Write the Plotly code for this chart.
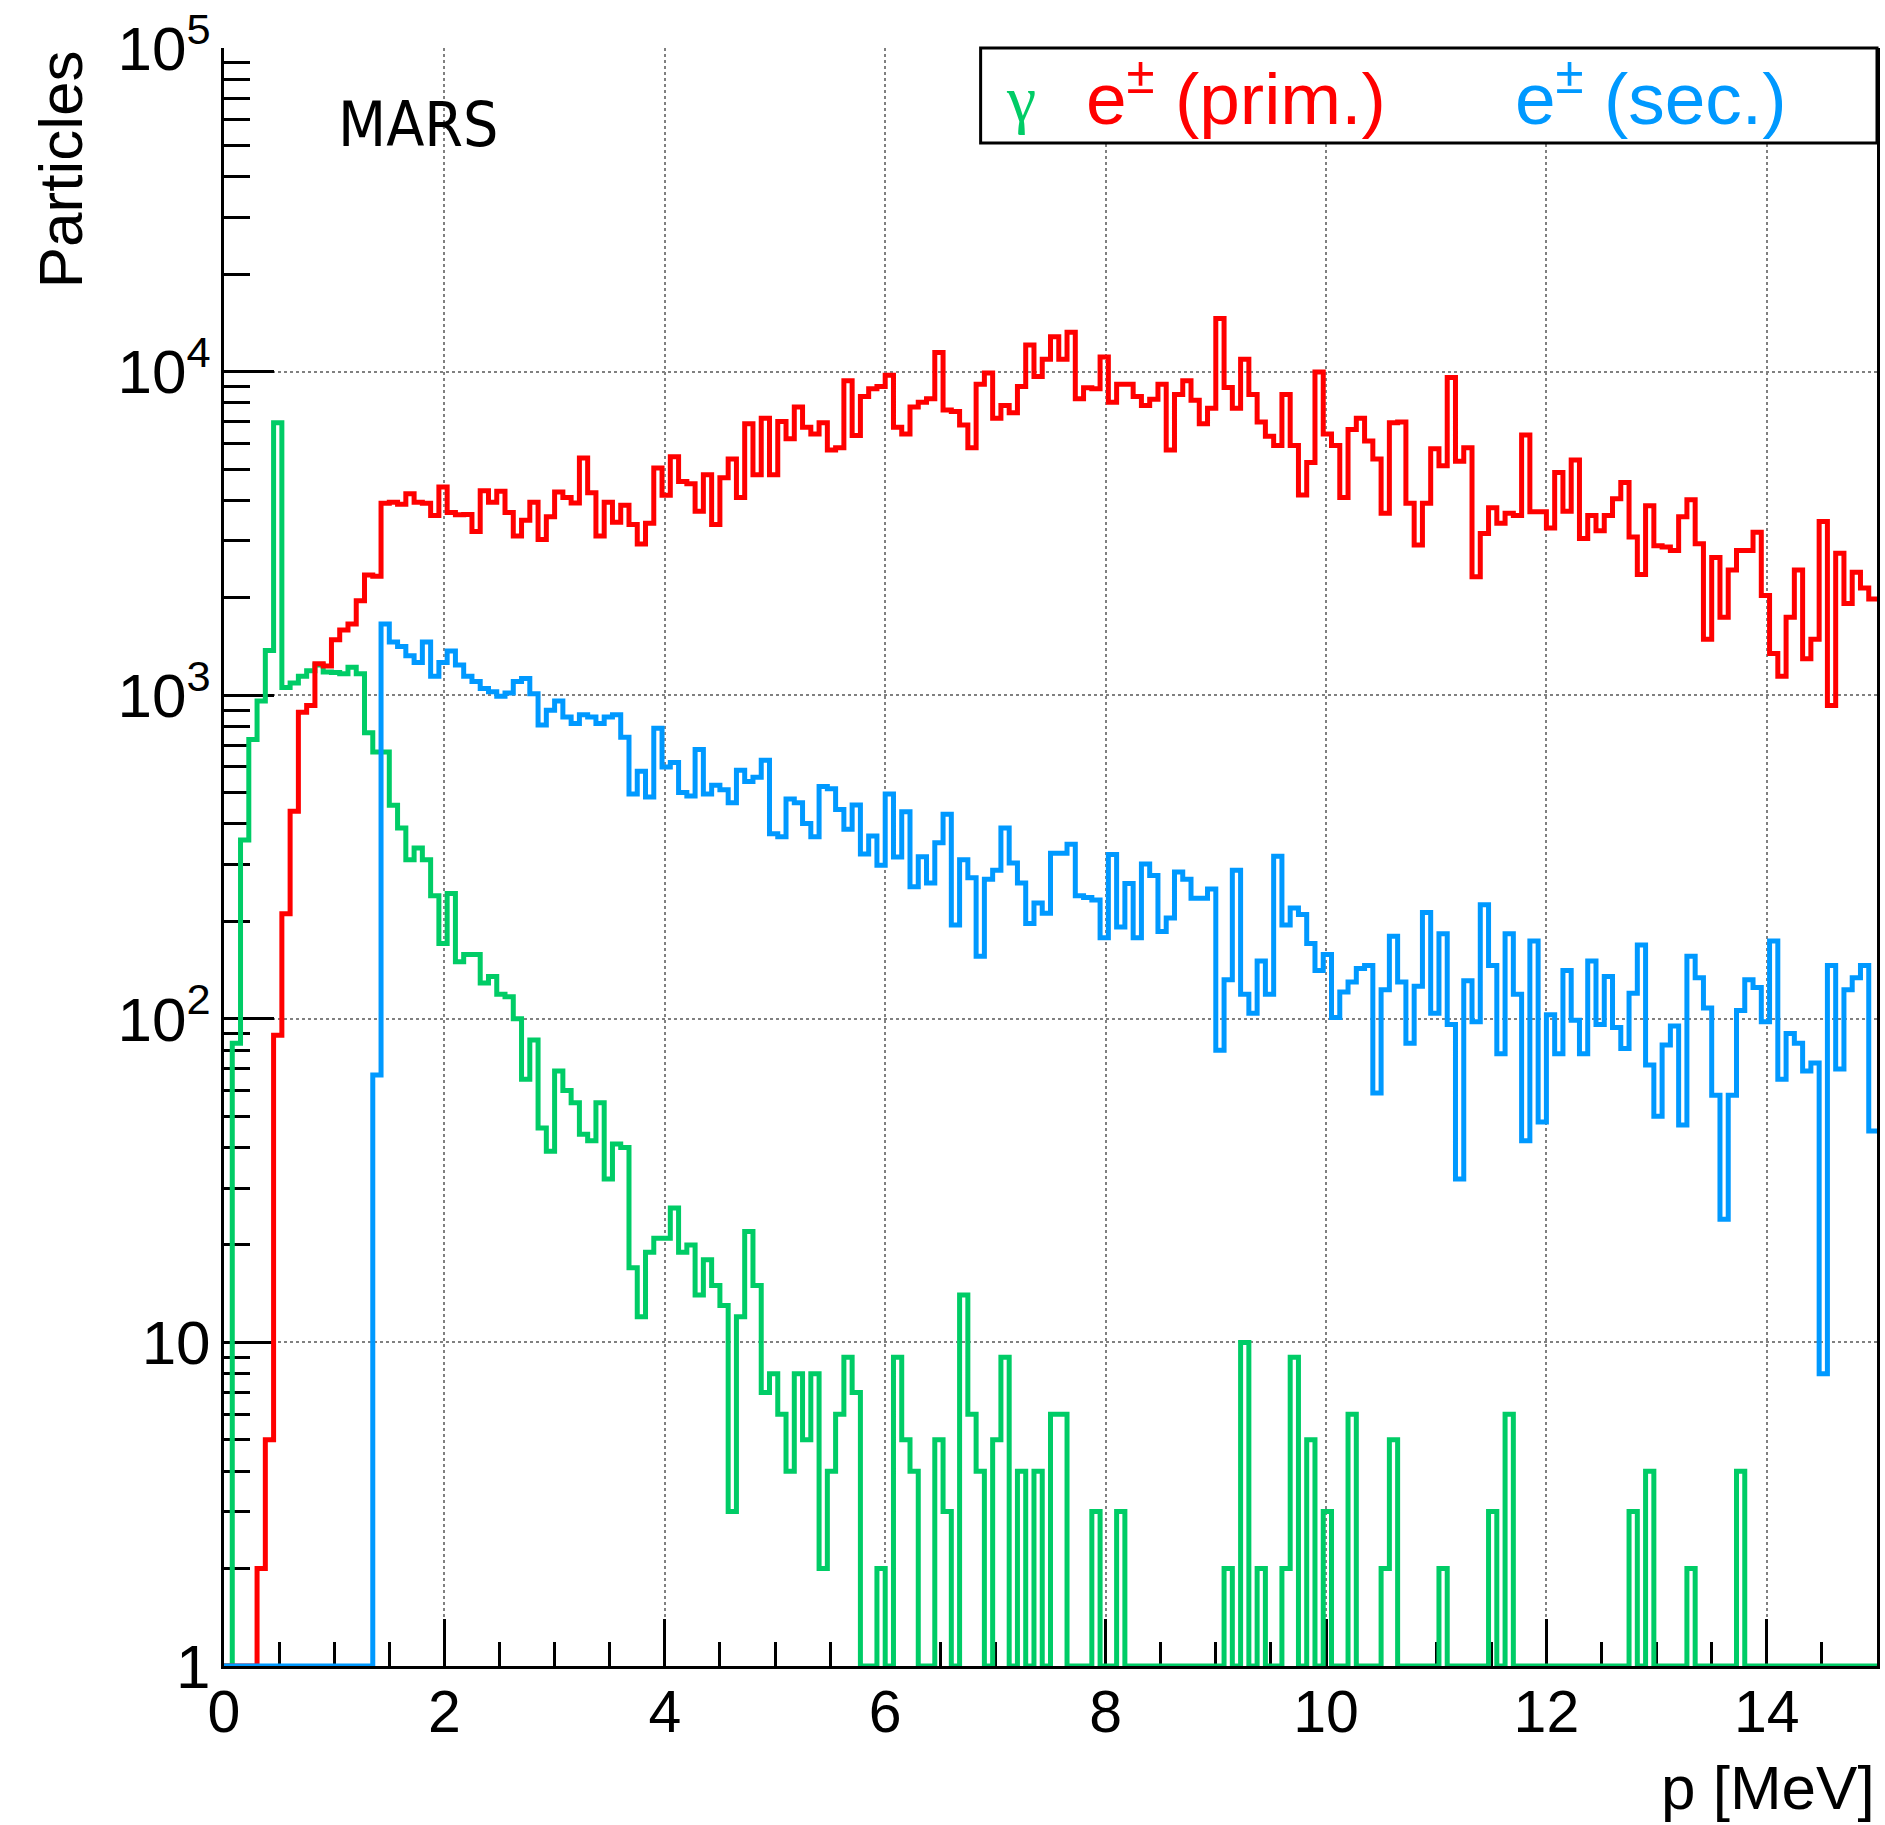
import numpy as np
import plotly.graph_objects as go

# ---------------- data (200 bins of 0.075 MeV, 0..15 MeV) ----------------
p_min, p_max, n_bins = 0.0, 15.0, 200

gamma_counts = [
    0, 84, 357, 729, 959, 1374, 6950, 1057, 1090, 1145,
    1190, 1240, 1180, 1175, 1165, 1220, 1165, 765, 667, 667,
    457, 389, 310, 337, 310, 240, 171, 244, 150, 158,
    158, 129, 135, 119, 117, 100, 65, 86, 46, 39,
    69, 60, 55, 44, 42, 55, 32, 41, 40, 17,
    12, 19, 21, 21, 26, 19, 20, 14, 18, 15,
    13, 3, 12, 22, 15, 7, 8, 6, 4, 8,
    5, 8, 2, 4, 6, 9, 7, 0, 0, 2,
    0, 9, 5, 4, 0, 0, 5, 3, 0, 14,
    6, 4, 0, 5, 9, 0, 4, 0, 4, 0,
    6, 6, 0, 0, 0, 3, 0, 0, 3, 0,
    0, 0, 0, 0, 0, 0, 0, 0, 0, 0,
    0, 2, 0, 10, 0, 2, 0, 0, 2, 9,
    0, 5, 0, 3, 0, 0, 6, 0, 0, 0,
    2, 5, 0, 0, 0, 0, 0, 2, 0, 0,
    0, 0, 0, 3, 0, 6, 0, 0, 0, 0,
    0, 0, 0, 0, 0, 0, 0, 0, 0, 0,
    3, 0, 4, 0, 0, 0, 0, 2, 0, 0,
    0, 0, 0, 4, 0, 0, 0, 0, 0, 0,
    0, 0, 0, 0, 0, 0, 0, 0, 0, 0,
]

eprim_counts = [
    0, 0, 0, 0, 2, 5, 89, 211, 438, 885,
    929, 1250, 1230, 1483, 1589, 1660, 1959, 2350, 2330, 3918,
    3950, 3890, 4190, 3950, 3920, 3590, 4400, 3670, 3610, 3620,
    3208, 4287, 3950, 4270, 3670, 3104, 3475, 3950, 3027, 3560,
    4248, 4086, 3928, 5409, 4226, 3104, 3950, 3422, 3865, 3370,
    2931, 3400, 5034, 4150, 5458, 4574, 4500, 3705, 4798, 3370,
    4695, 5370, 4086, 6905, 4798, 7176, 4798, 7010, 6206, 7780,
    6730, 6410, 6950, 5726, 5820, 9376, 6350, 8377, 8850, 8990,
    9745, 6730, 6410, 7780, 8035, 8245, 11450, 7605, 7530, 6840,
    5820, 9140, 9900, 7176, 7850, 7460, 8990, 12090, 9650, 10910,
    12810, 10910, 13240, 8245, 8907, 8850, 11090, 8035, 9140, 9140,
    8377, 7850, 8220, 9140, 5726, 8490, 9376, 8160, 6905, 7700,
    14580, 8930, 7700, 10910, 8490, 6990, 6310, 5915, 8490, 5915,
    4153, 5236, 9970, 6410, 5915, 4086, 6620, 7176, 6106, 5370,
    3650, 6950, 6990, 3918, 2913, 3918, 5780, 5116, 9590, 5282,
    5820, 2323, 3158, 3797, 3400, 3650, 3590, 6370, 3690, 3690,
    3288, 4876, 3705, 5334, 3052, 3590, 3224, 3590, 4050, 4541,
    3080, 2361, 3850, 2895, 2870, 2800, 3560, 4020, 2940, 1490,
    2662, 1742, 2437, 2800, 2800, 3190, 2032, 1346, 1145, 1742,
    2437, 1295, 1490, 3443, 929, 2748, 1920, 2400, 2143, 1982,
]

esec_counts = [
    0, 0, 0, 0, 0, 0, 0, 0, 0, 0,
    0, 0, 0, 0, 0, 0, 0, 0, 67, 1660,
    1459, 1413, 1324, 1262, 1459, 1145, 1262, 1370, 1240, 1145,
    1102, 1048, 1025, 993, 1016, 1102, 1127, 1010, 809, 899,
    959, 857, 818, 870, 857, 818, 857, 870, 741, 495,
    582, 485, 791, 600, 620, 500, 488, 679, 495, 527,
    510, 465, 586, 541, 558, 630, 373, 365, 478, 465,
    401, 365, 522, 514, 443, 385, 458, 323, 367, 298,
    495, 316, 436, 256, 317, 263, 350, 429, 195, 310,
    273, 156, 270, 288, 389, 303, 263, 197, 228, 212,
    325, 325, 346, 240, 237, 233, 178, 322, 192, 262,
    178, 301, 277, 186, 205, 284, 270, 236, 236, 252,
    80, 132, 288, 119, 104, 151, 119, 318, 195, 220,
    210, 171, 141, 158, 101, 121, 130, 143, 146, 59,
    123, 180, 130, 84, 126, 213, 104, 183, 96, 32,
    131, 98, 225, 146, 78, 183, 119, 42, 174, 48,
    103, 78, 141, 99, 78, 151, 96, 135, 94, 81,
    120, 169, 72, 50, 83, 95, 47, 156, 134, 108,
    58, 24, 58, 106, 132, 125, 98, 174, 65, 90,
    84, 69, 73, 8, 146, 70, 123, 134, 146, 45,
]

y_tick_values = [1, 10, 100, 1000, 10000, 100000]
y_tick_labels = ["1", "10", "10<sup>2</sup>", "10<sup>3</sup>", "10<sup>4</sup>", "10<sup>5</sup>"]
x_tick_values = [0, 2, 4, 6, 8, 10, 12, 14]
x_tick_labels = ["0", "2", "4", "6", "8", "10", "12", "14"]

# ---------------- figure ----------------
W, H = 1885, 1825
ML, MR, MT, MB = 224, 5, 46, 159
PW, PH = W - ML - MR, H - MT - MB


def px(X):
    return (X - ML) / PW


def py(Y):
    return (H - MB - Y) / PH


edges = np.linspace(p_min, p_max, n_bins + 1)
FLOOR = 1.0  # empty bins drawn on the axis floor like ROOT


def step(vals):
    v = np.maximum(np.asarray(vals, dtype=float), FLOOR)
    return edges, np.append(v, v[-1])


GREEN, RED, BLUE = "#00CC66", "#FF0000", "#0099FF"

fig = go.Figure()
for vals, col, name in [(gamma_counts, GREEN, "γ"),
                        (eprim_counts, RED, "e± (prim.)"),
                        (esec_counts, BLUE, "e± (sec.)")]:
    x, y = step(vals)
    fig.add_trace(go.Scatter(x=x, y=y, mode="lines", name=name,
                             line=dict(color=col, width=5, shape="hv"),
                             showlegend=False, hoverinfo="skip"))

FONT = "Liberation Sans, Arial, sans-serif"
minor_y = [m * 10 ** d for d in range(0, 5) for m in range(2, 10)]

fig.update_layout(
    width=W, height=H,
    margin=dict(l=ML, r=MR, t=MT, b=MB),
    plot_bgcolor="white", paper_bgcolor="white",
    font=dict(family=FONT, color="black"),
    showlegend=False,
    xaxis=dict(
        range=[p_min, p_max], tickmode="array", tickvals=x_tick_values, ticktext=x_tick_labels,
        ticks="inside", ticklen=47, tickwidth=3, tickcolor="black",
        showline=True, linewidth=3, linecolor="black", mirror=False,
        showgrid=True, gridcolor="#808080", gridwidth=2, griddash="dot",
        zeroline=False, layer="below traces", ticklabelstandoff=-8,
        minor=dict(dtick=0.5, tick0=0, ticks="inside", ticklen=24, tickwidth=3,
                   tickcolor="black", showgrid=False),
        tickfont=dict(family=FONT, size=59, color="black"),
    ),
    yaxis=dict(
        type="log", range=[0, 5], tickmode="array",
        tickvals=y_tick_values, ticktext=y_tick_labels,
        ticks="inside", ticklen=50, tickwidth=3, tickcolor="black",
        showline=True, linewidth=3, linecolor="black", mirror=True,
        showgrid=True, gridcolor="#808080", gridwidth=2, griddash="dot",
        zeroline=False, layer="below traces", ticklabelstandoff=-2,
        minor=dict(tickmode="array", tickvals=minor_y, ticks="inside", ticklen=26,
                   tickwidth=3, tickcolor="black", showgrid=False),
        tickfont=dict(family=FONT, size=62, color="black"),
    ),
)

# legend box (ROOT style, colored text only)
fig.add_shape(type="rect", xref="paper", yref="paper",
              x0=px(982), x1=px(1880), y0=py(141), y1=py(46),
              line=dict(color="black", width=3), fillcolor="white", layer="above")

annots = [
    dict(text="γ", x=px(1005), y=py(97), xanchor="left", yanchor="middle",
         font=dict(family="Liberation Serif, DejaVu Serif, serif", size=66, color=GREEN)),
    dict(text="e<sup>±</sup> (prim.)", x=px(1086), y=py(91), xanchor="left", yanchor="middle",
         font=dict(family=FONT, size=73, color=RED)),
    dict(text="e<sup>±</sup> (sec.)", x=px(1515), y=py(91), xanchor="left", yanchor="middle",
         font=dict(family=FONT, size=73, color=BLUE)),
    dict(text="MARS", x=px(336), y=py(123), xanchor="left", yanchor="middle",
         font=dict(family="Liberation Sans Narrow, DejaVu Sans Condensed, Roboto Condensed, Liberation Sans, sans-serif",
                   size=62, color="black")),
    dict(text="p [MeV]", x=1.0, y=py(1788), xanchor="right", yanchor="middle",
         font=dict(family=FONT, size=62, color="black")),
    dict(text="Particles", x=px(60), y=1.0, xanchor="center", yanchor="top", textangle=-90,
         font=dict(family=FONT, size=62, color="black")),
]
for a in annots:
    fig.add_annotation(xref="paper", yref="paper", showarrow=False, **a)

fig.write_html("out.html")
